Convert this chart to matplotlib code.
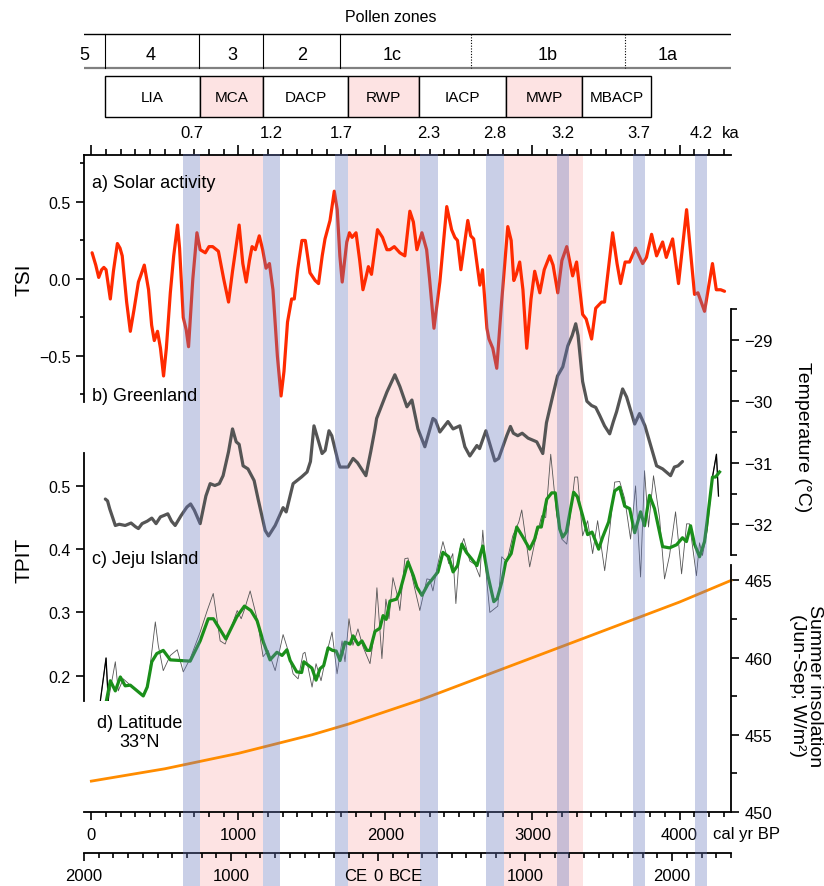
import matplotlib
matplotlib.use("Agg")
import matplotlib.pyplot as plt
import numpy as np
from matplotlib.patches import Rectangle
from matplotlib.ticker import MultipleLocator, FixedLocator, FuncFormatter

plt.rcParams['font.family'] = ['Liberation Sans', 'DejaVu Sans']

# ---------------- data (ages in cal yr BP) ----------------
tsi_age = [5, 30, 50, 70, 85, 100, 129, 150, 177, 195, 210, 240, 265, 290, 320, 335, 360, 389,
           410, 428, 450, 470, 491, 510, 537, 560, 586, 600, 625, 645, 661, 690, 718, 740, 775,
           800, 825, 864, 900, 933, 960, 1005, 1030, 1053, 1075, 1093, 1115, 1142, 1165, 1188,
           1211, 1235, 1265, 1290, 1310, 1334, 1362, 1380, 1403, 1432, 1455, 1487, 1522, 1545,
           1570, 1589, 1623, 1652, 1672, 1690, 1706, 1737, 1755, 1773, 1800, 1825, 1847, 1865,
           1884, 1905, 1946, 1980, 2010, 2030, 2060, 2098, 2132, 2166, 2190, 2214, 2248, 2280,
           2300, 2330, 2370, 2417, 2450, 2472, 2490, 2513, 2560, 2580, 2600, 2642, 2660, 2690,
           2704, 2730, 2757, 2790, 2832, 2855, 2873, 2890, 2913, 2935, 2961, 2990, 3015, 3050,
           3080, 3117, 3140, 3172, 3200, 3233, 3273, 3300, 3341, 3365, 3402, 3430, 3470, 3490,
           3545, 3575, 3599, 3630, 3660, 3701, 3749, 3775, 3810, 3844, 3885, 3910, 3953, 3993,
           4048, 4102, 4125, 4170, 4224, 4250, 4280, 4306]
tsi_val = [0.17, 0.09, 0.01, 0.06, 0.075, 0.06, -0.13, 0.05, 0.23, 0.20, 0.15, -0.15, -0.34, -0.20,
           -0.02, 0.02, 0.09, -0.07, -0.30, -0.40, -0.34, -0.45, -0.63, -0.45, -0.09, 0.15, 0.35,
           0.20, -0.25, -0.33, -0.44, 0.00, 0.30, 0.19, 0.17, 0.21, 0.21, 0.18, 0.00, -0.15, 0.05,
           0.35, 0.10, -0.02, 0.12, 0.21, 0.19, 0.28, 0.19, 0.07, 0.10, -0.07, -0.50, -0.76,
           -0.60, -0.28, -0.13, -0.13, 0.06, 0.25, 0.25, 0.04, -0.01, -0.03, 0.15, 0.26, 0.38,
           0.57, 0.45, 0.15, -0.02, 0.24, 0.30, 0.27, 0.30, 0.12, -0.07, 0.00, 0.08, 0.03, 0.32,
           0.27, 0.19, 0.19, 0.21, 0.17, 0.15, 0.44, 0.37, 0.19, 0.30, 0.19, 0.00, -0.32, -0.02,
           0.47, 0.32, 0.27, 0.25, 0.06, 0.38, 0.28, 0.26, -0.04, 0.06, -0.32, -0.39, -0.45,
           -0.58, -0.15, 0.34, 0.25, -0.01, 0.03, 0.11, -0.07, -0.45, -0.13, 0.05, -0.09, 0.06,
           0.15, 0.09, -0.09, 0.12, 0.21, 0.02, 0.11, -0.23, -0.26, -0.39, -0.19, -0.15, -0.15,
           0.30, 0.10, -0.03, 0.11, 0.11, 0.20, 0.10, 0.14, 0.29, 0.15, 0.24, 0.14, 0.26, -0.03,
           0.45, -0.10, -0.09, -0.21, 0.10, -0.07, -0.07, -0.08]

grl_age = [95, 110, 125, 163, 190, 230, 270, 300, 320, 345, 380, 411, 440, 470, 491, 520, 545,
           570, 610, 650, 675, 700, 740, 779, 808, 840, 870, 896, 933, 960, 985, 1005, 1032, 1065,
           1107, 1134, 1182, 1205, 1250, 1280, 1304, 1325, 1372, 1430, 1467, 1490, 1514, 1569,
           1590, 1616, 1635, 1678, 1691, 1745, 1780, 1810, 1867, 1900, 1929, 1940, 2010, 2064,
           2098, 2146, 2180, 2221, 2268, 2323, 2340, 2370, 2425, 2460, 2506, 2540, 2574, 2622,
           2640, 2683, 2744, 2770, 2825, 2850, 2870, 2900, 2930, 2970, 3029, 3070, 3095, 3138,
           3170, 3206, 3240, 3270, 3294, 3310, 3341, 3370, 3402, 3430, 3457, 3490, 3525, 3550,
           3572, 3613, 3640, 3695, 3728, 3765, 3810, 3844, 3885, 3939, 3965, 3990, 4020]
grl_val = [-31.59, -31.62, -31.75, -32.02, -32.00, -32.02, -31.98, -32.04, -32.07, -31.99, -31.95,
           -31.90, -31.99, -31.88, -31.86, -31.83, -31.95, -32.02, -31.86, -31.72, -31.67, -31.77,
           -31.99, -31.54, -31.34, -31.37, -31.34, -31.21, -30.82, -30.45, -30.66, -30.70, -31.05,
           -31.10, -31.29, -31.59, -32.10, -32.19, -32.02, -31.86, -31.73, -31.80, -31.34, -31.23,
           -31.15, -30.98, -30.40, -30.85, -30.80, -30.48, -30.56, -30.98, -31.07, -31.07, -30.93,
           -31.00, -31.21, -30.82, -30.45, -30.28, -29.85, -29.57, -29.76, -30.09, -29.98, -30.45,
           -30.74, -30.28, -30.31, -30.50, -30.33, -30.45, -30.40, -30.74, -30.89, -30.72, -30.77,
           -30.48, -30.97, -30.93, -30.56, -30.41, -30.52, -30.56, -30.52, -30.60, -30.66, -30.85,
           -30.35, -29.91, -29.59, -29.44, -29.10, -28.93, -28.74, -28.93, -29.68, -30.00, -30.07,
           -30.10, -30.23, -30.40, -30.53, -30.33, -30.17, -29.80, -29.93, -30.37, -30.20, -30.40,
           -30.77, -31.05, -31.10, -31.21, -31.07, -31.05, -30.98]

jeju_age = [102, 129, 163, 197, 230, 265, 353, 380, 411, 445, 489, 537, 672, 740, 795, 830, 915,
            989, 1041, 1085, 1127, 1170, 1215, 1262, 1297, 1330, 1352, 1397, 1430, 1445, 1500,
            1528, 1555, 1580, 1610, 1640, 1665, 1691, 1725, 1760, 1780, 1815, 1840, 1874, 1895,
            1929, 1962, 1984, 2005, 2031, 2075, 2098, 2153, 2190, 2214, 2248, 2290, 2310, 2357,
            2391, 2430, 2460, 2490, 2520, 2550, 2585, 2622, 2662, 2697, 2737, 2760, 2791, 2818,
            2855, 2893, 2935, 2981, 3015, 3036, 3060, 3097, 3131, 3155, 3185, 3205, 3230, 3280,
            3305, 3341, 3375, 3405, 3450, 3477, 3518, 3559, 3593, 3627, 3661, 3695, 3735, 3762,
            3796, 3830, 3885, 3932, 3980, 4020, 4047, 4075, 4102, 4136, 4170, 4190, 4224, 4245,
            4272]
jeju_smooth = [0.160, 0.192, 0.176, 0.198, 0.184, 0.185, 0.168, 0.182, 0.222, 0.235, 0.240, 0.225,
               0.223, 0.255, 0.290, 0.290, 0.258, 0.293, 0.310, 0.303, 0.287, 0.253, 0.225, 0.237,
               0.232, 0.241, 0.224, 0.206, 0.205, 0.222, 0.212, 0.193, 0.211, 0.216, 0.244, 0.240,
               0.239, 0.224, 0.253, 0.250, 0.263, 0.249, 0.255, 0.240, 0.240, 0.270, 0.275, 0.295,
               0.289, 0.318, 0.321, 0.333, 0.380, 0.358, 0.340, 0.327, 0.345, 0.350, 0.364, 0.395,
               0.388, 0.364, 0.374, 0.408, 0.395, 0.385, 0.374, 0.405, 0.358, 0.317, 0.322, 0.348,
               0.380, 0.393, 0.435, 0.419, 0.400, 0.416, 0.435, 0.435, 0.479, 0.489, 0.489, 0.432,
               0.419, 0.427, 0.490, 0.483, 0.453, 0.423, 0.427, 0.400, 0.419, 0.443, 0.492, 0.498,
               0.468, 0.464, 0.426, 0.459, 0.437, 0.485, 0.464, 0.404, 0.402, 0.407, 0.418, 0.412,
               0.437, 0.408, 0.388, 0.412, 0.448, 0.514, 0.514, 0.522]

raw_age = [61, 100, 115, 163, 183, 217, 265, 353, 387, 435, 455, 489, 537, 584, 625, 672, 740, 788,
           829, 876, 910, 992, 1019, 1039, 1080, 1127, 1168, 1202, 1250, 1304, 1331, 1372, 1406,
           1440, 1453, 1501, 1528, 1562, 1603, 1637, 1671, 1705, 1725, 1752, 1779, 1813, 1847,
           1895, 1922, 1942, 1976, 2003, 2024, 2051, 2078, 2098, 2132, 2153, 2200, 2234, 2282,
           2302, 2323, 2350, 2391, 2431, 2458, 2479, 2506, 2533, 2574, 2608, 2642, 2662, 2689,
           2710, 2764, 2791, 2825, 2866, 2907, 2927, 2981, 3015, 3063, 3090, 3124, 3165, 3199,
           3233, 3267, 3287, 3307, 3341, 3375, 3409, 3443, 3491, 3525, 3559, 3593, 3627, 3667,
           3701, 3735, 3762, 3789, 3823, 3864, 3898, 3932, 3973, 4014, 4048, 4068, 4115, 4136,
           4156, 4190, 4224, 4251, 4265]
raw_val = [0.160, 0.228, 0.160, 0.222, 0.176, 0.195, 0.185, 0.167, 0.190, 0.285, 0.248, 0.208,
           0.232, 0.241, 0.206, 0.227, 0.269, 0.303, 0.330, 0.255, 0.250, 0.303, 0.290, 0.303,
           0.334, 0.290, 0.230, 0.240, 0.208, 0.265, 0.245, 0.203, 0.195, 0.235, 0.237, 0.182,
           0.219, 0.192, 0.238, 0.269, 0.203, 0.255, 0.222, 0.290, 0.248, 0.274, 0.246, 0.219,
           0.264, 0.339, 0.227, 0.321, 0.290, 0.355, 0.330, 0.303, 0.385, 0.386, 0.337, 0.303,
           0.353, 0.352, 0.334, 0.370, 0.412, 0.377, 0.393, 0.314, 0.400, 0.417, 0.381, 0.376,
           0.356, 0.430, 0.350, 0.300, 0.310, 0.388, 0.380, 0.421, 0.443, 0.462, 0.372, 0.410,
           0.453, 0.450, 0.550, 0.453, 0.416, 0.408, 0.472, 0.514, 0.514, 0.421, 0.445, 0.393,
           0.445, 0.366, 0.430, 0.506, 0.507, 0.480, 0.416, 0.500, 0.356, 0.524, 0.435, 0.516,
           0.450, 0.353, 0.390, 0.459, 0.361, 0.440, 0.440, 0.358, 0.410, 0.390, 0.432, 0.514,
           0.550, 0.484]

ins_age = [0, 250, 500, 750, 1000, 1250, 1500, 1750, 2000, 2250, 2500, 2750, 3000, 3250, 3500,
           3750, 4000, 4250, 4350]
ins_val = [452.0, 452.4, 452.8, 453.3, 453.8, 454.4, 455.0, 455.7, 456.5, 457.3, 458.2, 459.1,
           460.0, 460.9, 461.8, 462.7, 463.6, 464.6, 465.0]

# cold events (blue bands) and warm periods (pink)
event_start = [623, 1167, 1657, 2235, 2684, 3167, 3683, 4105]
event_end = [739, 1283, 1745, 2357, 2806, 3248, 3765, 4187]
event_labels = ['0.7', '1.2', '1.7', '2.3', '2.8', '3.2', '3.7', '4.2']
warm_start = [739, 1745, 2806]
warm_end = [1167, 2235, 3343]

# pollen zones
zone_bounds = [93, 732, 1167, 1691, 2582, 3629]
zone_dotted = [False, False, False, False, True, True]
zone_names = ['5', '4', '3', '2', '1c', '1b', '1a']
zone_label_age = [-45, 400, 960, 1430, 2045, 3100, 3920]

# climate periods
period_names = ['LIA', 'MCA', 'DACP', 'RWP', 'IACP', 'MWP', 'MBACP']
period_edges = [93, 739, 1167, 1745, 2228, 2820, 3337, 3806]
period_warm = [False, True, False, True, False, True, False]

# calendar axis (CE/BCE) expressed in BP
cal_ticks = [-50, 950, 1950, 2950, 3950]
cal_labels = ['2000', '1000', '0', '1000', '2000']

# ---------------- layout ----------------
W, H = 824, 887
XL = (-50, 4350)
PINK = '#fde3e3'
BLUE = (101 / 255, 118 / 255, 189 / 255)
RED = '#ff2a00'
GREEN = '#1a8f1a'
GREY = '#555555'
ORANGE = '#ff8c00'

fig = plt.figure(figsize=(W / 100, H / 100), dpi=100)


def fmt(decimals):
    def f(v, pos):
        s = f'{v:.{decimals}f}'
        return s.replace('-', '\u2212')
    return FuncFormatter(f)


def px_axes(x0, y0, x1, y1, z):
    ax = fig.add_axes([x0 / W, 1 - y1 / H, (x1 - x0) / W, (y1 - y0) / H], zorder=z)
    ax.patch.set_alpha(0)
    ax.set_xlim(XL)
    return ax


def ftext(x, y, s, **kw):
    kw.setdefault('zorder', 40)
    return fig.text(x / W, 1 - y / H, s, **kw)


def only_spines(ax, keep):
    for side in ['left', 'right', 'top', 'bottom']:
        ax.spines[side].set_visible(side in keep)
        ax.spines[side].set_linewidth(1.3)


# warm-period shading behind everything
bg = px_axes(84, 155, 731, 887, 0)
bg.axis('off')
for s, e in zip(warm_start, warm_end):
    bg.axvspan(s, e, color=PINK, lw=0)

# ---- top timeline: pollen zones and climate periods ----
axt = px_axes(84, 0, 731, 150, 2)
axt.set_ylim(150, 0)
axt.axis('off')
axt.plot(XL, [35, 35], color='k', lw=1.0)
axt.plot(XL, [69, 69], color='#808080', lw=1.6)
for b, dotted in zip(zone_bounds, zone_dotted):
    axt.plot([b, b], [35, 69], color='k', lw=0.8,
             ls=(0, (1, 1.5)) if dotted else '-')
for name, a in zip(zone_names, zone_label_age):
    axt.text(a, 55, name, ha='center', va='center', fontsize=13)
for i, name in enumerate(period_names):
    x0, x1 = period_edges[i], period_edges[i + 1]
    axt.add_patch(Rectangle((x0, 77), x1 - x0, 41, facecolor=PINK if period_warm[i] else 'white',
                            edgecolor='k', lw=1.0))
    axt.text((x0 + x1) / 2, 98, name, ha='center', va='center', fontsize=11)
for s, e, lab in zip(event_start, event_end, event_labels):
    axt.text((s + e) / 2, 134, lab, ha='center', va='center', fontsize=12)
axt.text(4290, 134, 'ka', ha='left', va='center', fontsize=12)
ftext(391, 18, 'Pollen zones', ha='center', va='center', fontsize=11.5)

# ---- a) solar activity ----
ax_a = px_axes(84, 156, 731, 403, 5)
ax_a.plot(tsi_age, tsi_val, color=RED, lw=2.3, solid_joinstyle='round', solid_capstyle='round')
ax_a.set_ylim(-0.799, 0.805)
only_spines(ax_a, ['left', 'top'])
ax_a.xaxis.set_ticks_position('top')
ax_a.xaxis.set_major_locator(MultipleLocator(1000))
ax_a.xaxis.set_minor_locator(MultipleLocator(100))
ax_a.tick_params(axis='x', which='both', labeltop=False, direction='out', width=1.2)
ax_a.tick_params(axis='x', which='major', length=7)
ax_a.tick_params(axis='x', which='minor', length=4)
ax_a.yaxis.set_major_locator(FixedLocator([-0.5, 0.0, 0.5]))
ax_a.yaxis.set_minor_locator(FixedLocator([-0.75, -0.25, 0.25, 0.75]))
ax_a.yaxis.set_major_formatter(fmt(1))
ax_a.tick_params(axis='y', which='both', direction='out', width=1.2, labelsize=11.5)
ax_a.tick_params(axis='y', which='major', length=6)
ax_a.tick_params(axis='y', which='minor', length=3)

# ---- b) Greenland temperature ----
ax_b = px_axes(84, 310, 731, 556, 6)
ax_b.plot(grl_age, grl_val, color=GREY, lw=2.3, solid_joinstyle='round', solid_capstyle='round')
ax_b.set_ylim(-32.5, -28.5)
only_spines(ax_b, ['right'])
ax_b.set_xticks([])
ax_b.yaxis.set_ticks_position('right')
ax_b.yaxis.set_major_locator(MultipleLocator(1))
ax_b.yaxis.set_minor_locator(MultipleLocator(0.5))
ax_b.yaxis.set_major_formatter(fmt(0))
ax_b.tick_params(axis='y', which='both', direction='out', width=1.2, labelsize=12)
ax_b.tick_params(axis='y', which='major', length=6)
ax_b.tick_params(axis='y', which='minor', length=4)

# ---- c) Jeju Island TPIT ----
ax_c = px_axes(84, 454, 731, 702, 7)
ax_c.plot(raw_age, raw_val, color='#555555', lw=0.6)
ax_c.plot(raw_age[:3], raw_val[:3], color='k', lw=0.9)
ax_c.plot(raw_age[-3:], raw_val[-3:], color='k', lw=0.9)
ax_c.plot(jeju_age, jeju_smooth, color=GREEN, lw=2.3, solid_joinstyle='round')
ax_c.set_ylim(0.16, 0.552)
only_spines(ax_c, ['left'])
ax_c.set_xticks([])
ax_c.yaxis.set_major_locator(FixedLocator([0.2, 0.3, 0.4, 0.5]))
ax_c.yaxis.set_major_formatter(fmt(1))
ax_c.tick_params(axis='y', which='major', direction='out', length=6, width=1.2, labelsize=11.5)

# ---- d) summer insolation + cal yr BP axis ----
ax_d = px_axes(84, 566, 731, 813, 8)
ax_d.plot(ins_age, ins_val, color=ORANGE, lw=2.0, clip_on=False)
ax_d.set_ylim(450, 466)
only_spines(ax_d, ['right', 'bottom'])
ax_d.yaxis.set_ticks_position('right')
ax_d.yaxis.set_major_locator(MultipleLocator(5))
ax_d.yaxis.set_minor_locator(MultipleLocator(2.5))
ax_d.yaxis.set_major_formatter(fmt(0))
ax_d.tick_params(axis='y', which='both', direction='out', width=1.2, labelsize=12)
ax_d.tick_params(axis='y', which='major', length=6)
ax_d.tick_params(axis='y', which='minor', length=4)
ax_d.xaxis.set_major_locator(MultipleLocator(1000))
ax_d.xaxis.set_minor_locator(MultipleLocator(100))
ax_d.xaxis.set_major_formatter(fmt(0))
ax_d.tick_params(axis='x', which='both', direction='out', width=1.2, labelsize=12, pad=5)
ax_d.tick_params(axis='x', which='major', length=6)
ax_d.tick_params(axis='x', which='minor', length=3.5)

# ---- calendar axis (CE / BCE) ----
ax_e = px_axes(84, 853, 731, 854, 9)
only_spines(ax_e, ['bottom'])
ax_e.set_yticks([])
ax_e.xaxis.set_major_locator(FixedLocator(cal_ticks))
ax_e.xaxis.set_minor_locator(FixedLocator(np.arange(-50, 4351, 100)))
ax_e.set_xticklabels(cal_labels)
ax_e.tick_params(axis='x', which='both', direction='out', width=1.2, labelsize=12, pad=5)
ax_e.tick_params(axis='x', which='major', length=6)
ax_e.tick_params(axis='x', which='minor', length=3.5)
ftext(356, 877, 'CE', ha='center', va='center', fontsize=12)
ftext(406, 877, 'BCE', ha='center', va='center', fontsize=12)

# ---- cold events drawn over the records ----
ov = px_axes(84, 155, 731, 887, 20)
ov.axis('off')
for s, e in zip(event_start, event_end):
    ov.axvspan(s, e, color=BLUE, alpha=0.35, lw=0)

# ---- annotations ----
ftext(92, 183, 'a) Solar activity', ha='left', va='center', fontsize=13)
ftext(92, 397, 'b) Greenland', ha='left', va='center', fontsize=13)
ftext(92, 560, 'c) Jeju Island', ha='left', va='center', fontsize=13)
ftext(140, 733, 'd) Latitude\n33°N', ha='center', va='center', fontsize=13, linespacing=1.15)
ftext(24, 280, 'TSI', ha='center', va='center', rotation=90, fontsize=15)
ftext(24, 560, 'TPIT', ha='center', va='center', rotation=90, fontsize=15)
ftext(802, 437, 'Temperature (°C)', ha='center', va='center', rotation=270, fontsize=14)
ftext(806, 686, 'Summer insolation\n(Jun-Sep; W/m²)', ha='center', va='center',
      rotation=270, fontsize=14, linespacing=1.0)
ftext(713, 835, 'cal yr BP', ha='left', va='center', fontsize=12)

fig.savefig('out.png', dpi=100)
